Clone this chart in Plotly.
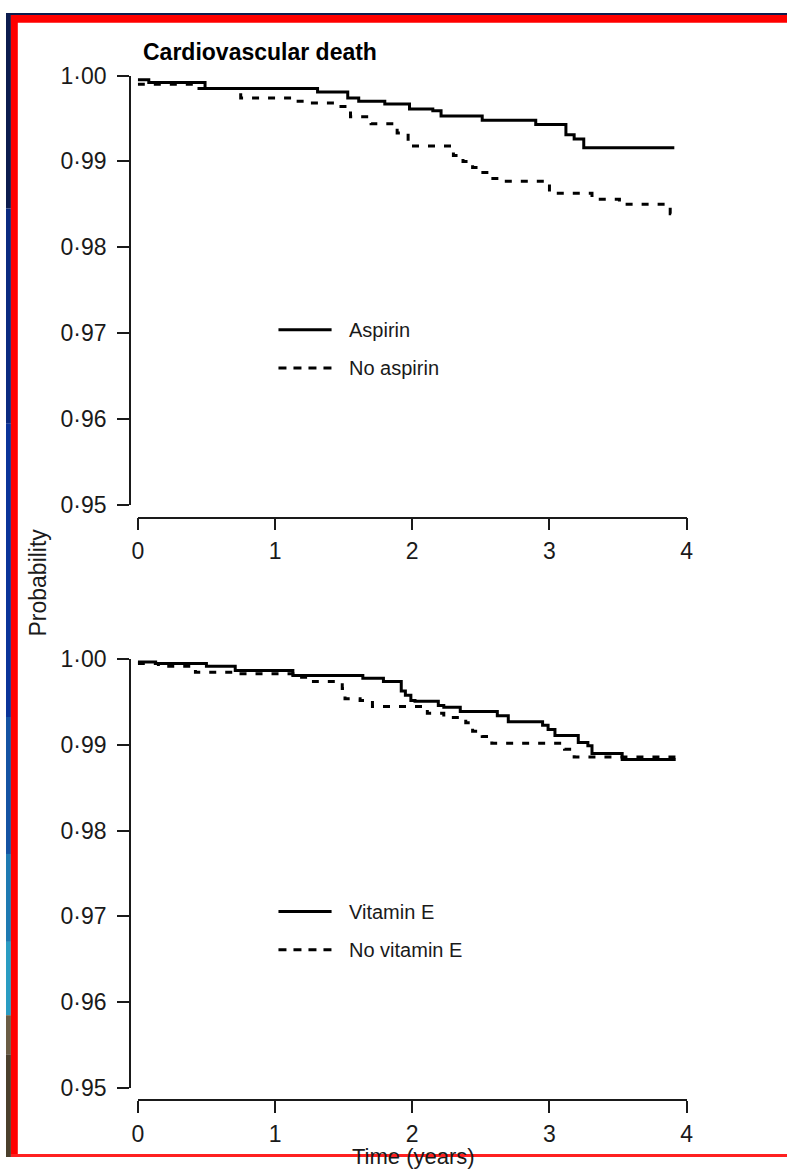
import plotly.graph_objects as go

W, H = 794, 1170

# ---------------- data ----------------
aspirin_t = [0, 0.08, 0.49, 1.31, 1.53, 1.61, 1.80, 1.98, 2.15, 2.21, 2.51, 2.90, 3.12, 3.18, 3.25, 3.91]
aspirin_s = [0.9995, 0.9992, 0.9985, 0.9981, 0.9974, 0.9970, 0.9967, 0.9961, 0.9959, 0.9953, 0.9948,
             0.9943, 0.9931, 0.9926, 0.9916, 0.9916]

no_aspirin_t = [0, 0.39, 0.71, 0.75, 1.12, 1.21, 1.43, 1.55, 1.70, 1.89, 1.97, 2.30, 2.37, 2.44, 2.50,
                2.57, 2.63, 3.00, 3.31, 3.51, 3.88, 3.91]
no_aspirin_s = [0.9990, 0.9985, 0.9980, 0.9974, 0.9970, 0.9968, 0.9964, 0.9952, 0.9944, 0.9933, 0.9918,
                0.9907, 0.9900, 0.9893, 0.9887, 0.9880, 0.9877, 0.9863, 0.9856, 0.9850, 0.9839, 0.9839]

vitE_t = [0, 0.13, 0.50, 0.71, 1.13, 1.64, 1.79, 1.92, 1.95, 1.99, 2.02, 2.19, 2.23, 2.35, 2.62, 2.70,
          2.95, 2.99, 3.04, 3.21, 3.28, 3.31, 3.53, 3.92]
vitE_s = [0.9997, 0.9995, 0.9992, 0.9987, 0.9981, 0.9978, 0.9974, 0.9963, 0.9958, 0.9952, 0.9951,
          0.9946, 0.9944, 0.9939, 0.9934, 0.9927, 0.9923, 0.9918, 0.9911, 0.9903, 0.9899, 0.9890,
          0.9883, 0.9883]

no_vitE_t = [0, 0.15, 0.42, 0.71, 1.13, 1.28, 1.49, 1.51, 1.62, 1.71, 2.11, 2.23, 2.39, 2.44, 2.51,
             2.58, 3.11, 3.18, 3.92]
no_vitE_s = [0.9995, 0.9992, 0.9985, 0.9983, 0.9979, 0.9974, 0.9966, 0.9954, 0.9952, 0.9945, 0.9937,
             0.9932, 0.9926, 0.9916, 0.9910, 0.9902, 0.9895, 0.9886, 0.9886]

y_tickvals = [0.95, 0.96, 0.97, 0.98, 0.99, 1.00]
y_ticktext = ["0·95", "0·96", "0·97", "0·98", "0·99", "1·00"]
x_tickvals = [0, 1, 2, 3, 4]
x_ticktext = ["0", "1", "2", "3", "4"]

title_text = "Cardiovascular death"
legend_top = ["Aspirin", "No aspirin"]
legend_bottom = ["Vitamin E", "No vitamin E"]

# ---------------- helpers ----------------
def px(x):
    return x / W

def py(y):
    return 1 - y / H

FONT = "Liberation Sans, Arial, sans-serif"
INK = "#1a1a1a"
DASH = "7px,9px"

fig = go.Figure()

fig.add_trace(go.Scatter(x=aspirin_t, y=aspirin_s, mode="lines", line=dict(color="black", width=3, shape="hv"),
                         xaxis="x", yaxis="y", showlegend=False, name=legend_top[0]))
fig.add_trace(go.Scatter(x=no_aspirin_t, y=no_aspirin_s, mode="lines",
                         line=dict(color="black", width=3, shape="hv", dash=DASH),
                         xaxis="x", yaxis="y", showlegend=False, name=legend_top[1]))
fig.add_trace(go.Scatter(x=vitE_t, y=vitE_s, mode="lines", line=dict(color="black", width=3, shape="hv"),
                         xaxis="x2", yaxis="y2", showlegend=False, name=legend_bottom[0]))
fig.add_trace(go.Scatter(x=no_vitE_t, y=no_vitE_s, mode="lines",
                         line=dict(color="black", width=3, shape="hv", dash=DASH),
                         xaxis="x2", yaxis="y2", showlegend=False, name=legend_bottom[1]))

xcommon = dict(range=[0, 4], domain=[px(134), px(692)], tickvals=x_tickvals, ticktext=x_ticktext,
               showline=True, linecolor=INK, linewidth=1.5, ticks="outside", ticklen=12, tickwidth=1.5,
               tickcolor=INK, showgrid=False, zeroline=False, anchor="free", ticklabelstandoff=1,
               tickfont=dict(family=FONT, size=23, color=INK), fixedrange=True)
ycommon = dict(range=[0.95, 1.0], tickvals=y_tickvals, ticktext=y_ticktext,
               showline=True, linecolor=INK, linewidth=1.5, ticks="outside", ticklen=12, tickwidth=1.5,
               tickcolor=INK, showgrid=False, zeroline=False, anchor="free", position=px(126),
               ticklabelstandoff=6,
               tickfont=dict(family=FONT, size=23, color=INK), fixedrange=True)

fig.update_layout(
    width=W, height=H, margin=dict(l=0, r=0, t=0, b=0),
    paper_bgcolor="white", plot_bgcolor="white",
    xaxis=dict(xcommon, position=py(516)),
    yaxis=dict(ycommon, domain=[py(503), py(64)]),
    xaxis2=dict(xcommon, position=py(1112)),
    yaxis2=dict(ycommon, domain=[py(1099), py(661)]),
    showlegend=False,
)

annotations = []
annotations.append(dict(text="<b>" + title_text + "</b>", x=px(137), y=py(40), xref="paper", yref="paper",
                        xanchor="left", yanchor="middle", showarrow=False,
                        font=dict(family=FONT, size=23, color="black")))
annotations.append(dict(text="Probability", x=px(33), y=py(582), xref="paper", yref="paper",
                        xanchor="center", yanchor="middle", textangle=-90, showarrow=False,
                        font=dict(family=FONT, size=23, color=INK)))
annotations.append(dict(text="Time (years)", x=px(414), y=py(1169), xref="paper", yref="paper",
                        xanchor="center", yanchor="middle", showarrow=False,
                        font=dict(family=FONT, size=22, color=INK)))

shapes = []
# legends
for (labels, y0) in ((legend_top, 324), (legend_bottom, 919)):
    for i, lab in enumerate(labels):
        yy = y0 + i * 39
        shapes.append(dict(type="line", xref="paper", yref="paper", x0=px(277), x1=px(331), y0=py(yy), y1=py(yy),
                           line=dict(color="black", width=3, dash="solid" if i == 0 else "8px,7px")))
        annotations.append(dict(text=lab, x=px(347), y=py(yy), xref="paper", yref="paper",
                                xanchor="left", yanchor="middle", showarrow=False,
                                font=dict(family=FONT, size=20, color=INK)))

# frame decoration: left gradient strip, red borders
strip = [(0, 200, "#0c1c4e"), (200, 420, "#0a2a80"), (420, 720, "#0a3399"), (720, 860, "#1452a2"),
         (860, 950, "#1e7ab2"), (950, 1025, "#2a9cc2"), (1025, 1065, "#6a5c44"), (1065, 1170, "#4b3f2c")]
for a, b, c in strip:
    shapes.append(dict(type="rect", xref="paper", yref="paper", x0=0, x1=px(5), y0=py(b), y1=py(a),
                       fillcolor=c, line=dict(width=0), layer="above"))
shapes.append(dict(type="rect", xref="paper", yref="paper", x0=0, x1=1, y0=py(2), y1=1,
                   fillcolor="#0c1c4e", line=dict(width=0), layer="above"))
shapes.append(dict(type="rect", xref="paper", yref="paper", x0=px(5), x1=1, y0=py(10), y1=py(2),
                   fillcolor="#ff0000", line=dict(width=0), layer="above"))
shapes.append(dict(type="rect", xref="paper", yref="paper", x0=px(5), x1=px(12), y0=0, y1=py(2),
                   fillcolor="#ff0000", line=dict(width=0), layer="above"))
shapes.append(dict(type="rect", xref="paper", yref="paper", x0=px(5), x1=1, y0=0, y1=py(1167),
                   fillcolor="#ff2020", line=dict(width=0), layer="above"))

fig.update_layout(annotations=annotations, shapes=shapes)

fig.write_html("out.html")
